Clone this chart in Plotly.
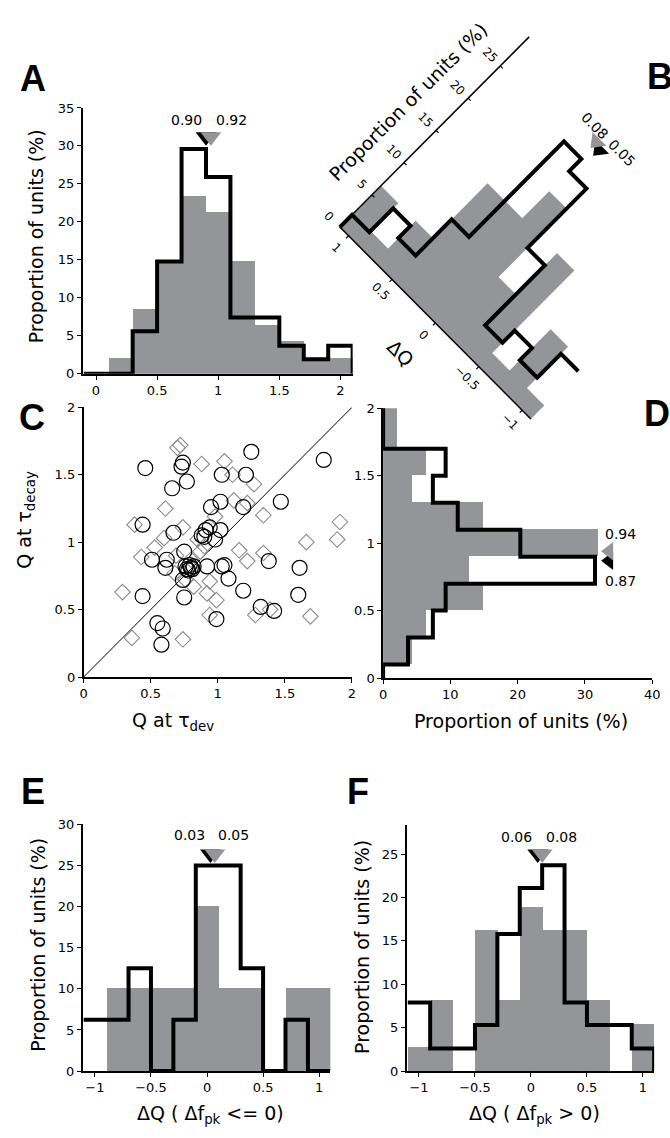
import math
import plotly.graph_objects as go

W, H = 670, 1138
FONT = "DejaVu Sans"
GRAY = "#939598"
DIAMOND_GRAY = "#8c8c8c"
BIN_W = 0.2

# ---------------- data ----------------
# Panel A: distribution of Q (bins of 0.2, lower edges)
a_lo = [-0.1, 0.1, 0.3, 0.5, 0.7, 0.9, 1.1, 1.3, 1.5, 1.7, 1.9]
a_gray = [0, 2.1, 8.5, 14.9, 23.4, 21.3, 14.9, 6.4, 4.3, 2.1, 2.1]
a_black = [0, 0, 5.6, 14.8, 29.6, 25.9, 7.4, 7.4, 3.7, 1.9, 3.7]
a_median_black, a_median_gray = 0.90, 0.92

# Panel C: Q at tau_dev vs Q at tau_decay
circ_x = [0.46, 0.74, 0.73, 0.77, 0.66, 1.25, 1.03, 1.21, 1.79, 1.47, 1.02, 0.95, 1.19,
          0.44, 0.67, 0.94, 0.91, 1.02, 0.88, 0.90, 0.98, 0.75, 0.51, 0.62, 0.61, 0.79,
          0.77, 0.81, 0.82, 0.92, 1.03, 1.05, 1.38, 1.61, 0.74, 1.08, 0.44, 0.75, 1.19,
          1.60, 1.32, 1.42, 0.99, 0.55, 0.59, 0.58, 0.78, 0.80, 0.76]
circ_y = [1.55, 1.59, 1.56, 1.45, 1.40, 1.67, 1.50, 1.50, 1.61, 1.30, 1.30, 1.26, 1.26,
          1.13, 1.07, 1.11, 1.09, 1.09, 1.05, 1.04, 1.02, 0.93, 0.87, 0.87, 0.81, 0.83,
          0.80, 0.80, 0.82, 0.82, 0.82, 0.83, 0.86, 0.81, 0.72, 0.73, 0.60, 0.59, 0.64,
          0.61, 0.52, 0.49, 0.43, 0.40, 0.36, 0.24, 0.79, 0.81, 0.82]
dia_x = [0.72, 0.70, 0.88, 1.05, 1.11, 1.27, 0.61, 1.12, 1.22, 1.34, 0.38, 0.74, 0.98,
         1.91, 1.89, 1.66, 0.53, 0.43, 0.60, 0.69, 0.85, 0.90, 1.16, 1.22, 1.34, 0.87,
         0.80, 0.29, 0.82, 0.94, 0.92, 0.99, 0.94, 1.28, 1.39, 1.69, 0.36, 0.74, 0.68, 0.76]
dia_y = [1.72, 1.70, 1.58, 1.60, 1.50, 1.43, 1.25, 1.31, 1.29, 1.20, 1.13, 1.11, 1.19,
         1.15, 1.02, 1.00, 0.96, 0.89, 1.03, 0.90, 1.02, 0.97, 0.94, 0.86, 0.92, 0.93,
         0.87, 0.63, 0.67, 0.71, 0.62, 0.57, 0.46, 0.46, 0.50, 0.45, 0.29, 0.28, 0.77, 0.72]

# Panel D: distribution of Q at tau_decay (horizontal)
d_lo = [-0.1, 0.1, 0.3, 0.5, 0.7, 0.9, 1.1, 1.3, 1.5, 1.7, 1.9]
d_gray = [0, 4.3, 6.4, 14.9, 12.8, 31.9, 14.9, 4.3, 6.4, 2.1, 2.1]
d_black = [0, 3.7, 7.4, 9.3, 31.5, 20.4, 11.1, 7.4, 9.3, 0, 0]
d_median_gray, d_median_black = 0.94, 0.87

# Panels B, E, F: distributions of delta Q
dq_lo = [-1.1, -0.9, -0.7, -0.5, -0.3, -0.1, 0.1, 0.3, 0.5, 0.7, 0.9]
b_gray = [2.1, 8.5, 2.1, 14.9, 8.5, 19.1, 14.9, 14.9, 6.4, 2.1, 6.4]
b_black = [7.4, 3.7, 5.6, 3.7, 13.0, 22.2, 24.1, 9.3, 3.7, 5.6, 1.9]
b_median_gray, b_median_black = 0.08, 0.05
e_gray = [0, 10, 10, 10, 10, 20, 10, 10, 0, 10, 10]
e_black = [6.25, 6.25, 12.5, 0, 6.25, 25, 25, 12.5, 0, 6.25, 0]
e_median_black, e_median_gray = 0.03, 0.05
f_gray = [2.7, 8.1, 0, 16.2, 8.1, 18.9, 16.2, 16.2, 8.1, 0, 5.4]
f_black = [7.9, 2.6, 2.6, 5.3, 15.8, 21.1, 23.7, 7.9, 5.3, 5.3, 2.6]
f_median_black, f_median_gray = 0.06, 0.08


# ---------------- helpers ----------------
def dom_x(x0, x1):
    return [x0 / W, x1 / W]


def dom_y(top, bottom):
    return [1 - bottom / H, 1 - top / H]


def px(x):
    return x / W


def py(y):
    return 1 - y / H


def centers(lo):
    return [v + BIN_W / 2 for v in lo]


def step_path(lo, vals, close_end=True):
    xs, ys = [], []
    for a, v in zip(lo, vals):
        xs += [a, a + BIN_W]
        ys += [v, v]
    if close_end:
        xs.append(lo[-1] + BIN_W)
        ys.append(0)
    return xs, ys


OUTLINE = dict(color="black", width=4)

fig = go.Figure()

# ---------------- panel A ----------------
fig.add_trace(go.Bar(x=centers(a_lo), y=a_gray, width=BIN_W, marker=dict(color=GRAY, line=dict(width=0)),
                     xaxis="x", yaxis="y", showlegend=False))
sx, sy = step_path(a_lo, a_black)
fig.add_trace(go.Scatter(x=sx, y=sy, mode="lines", line=OUTLINE, xaxis="x", yaxis="y", showlegend=False))
fig.add_trace(go.Scatter(x=[a_median_black], y=[31.2], mode="markers",
                         marker=dict(symbol="triangle-down", size=18, color="black"),
                         xaxis="x", yaxis="y", showlegend=False, cliponaxis=False))
fig.add_trace(go.Scatter(x=[a_median_gray + 0.02], y=[31.2], mode="markers",
                         marker=dict(symbol="triangle-down", size=18, color=GRAY),
                         xaxis="x", yaxis="y", showlegend=False, cliponaxis=False))

# ---------------- panel C ----------------
c_range = [0, 2]
fig.add_trace(go.Scatter(x=c_range, y=c_range, mode="lines", line=dict(color="black", width=1),
                         xaxis="x2", yaxis="y2", showlegend=False))
fig.add_trace(go.Scatter(x=dia_x, y=dia_y, mode="markers",
                         marker=dict(symbol="diamond-open", size=12, color=DIAMOND_GRAY, line=dict(width=1.1)),
                         xaxis="x2", yaxis="y2", showlegend=False))
fig.add_trace(go.Scatter(x=circ_x, y=circ_y, mode="markers",
                         marker=dict(symbol="circle-open", size=15, color="black", line=dict(width=1.2)),
                         xaxis="x2", yaxis="y2", showlegend=False))

# ---------------- panel D ----------------
fig.add_trace(go.Bar(y=centers(d_lo), x=d_gray, width=BIN_W, orientation="h",
                     marker=dict(color=GRAY, line=dict(width=0)),
                     xaxis="x3", yaxis="y3", showlegend=False))
sy, sx = step_path(d_lo, d_black, close_end=False)
fig.add_trace(go.Scatter(x=sx, y=sy, mode="lines", line=OUTLINE, xaxis="x3", yaxis="y3", showlegend=False))
fig.add_trace(go.Scatter(x=[33.6], y=[d_median_black], mode="markers",
                         marker=dict(symbol="triangle-left", size=16, color="black"),
                         xaxis="x3", yaxis="y3", showlegend=False, cliponaxis=False))
fig.add_trace(go.Scatter(x=[33.6], y=[d_median_gray], mode="markers",
                         marker=dict(symbol="triangle-left", size=16, color=GRAY),
                         xaxis="x3", yaxis="y3", showlegend=False, cliponaxis=False))

# ---------------- panels E and F ----------------
for ax, gray, black, med_b, med_g, ytri in (("4", e_gray, e_black, e_median_black, e_median_gray, 26.4),
                                            ("5", f_gray, f_black, f_median_black, f_median_gray, 25.0)):
    fig.add_trace(go.Bar(x=centers(dq_lo), y=gray, width=BIN_W, marker=dict(color=GRAY, line=dict(width=0)),
                         xaxis="x" + ax, yaxis="y" + ax, showlegend=False))
    sx, sy = step_path(dq_lo, black)
    fig.add_trace(go.Scatter(x=sx, y=sy, mode="lines", line=OUTLINE,
                             xaxis="x" + ax, yaxis="y" + ax, showlegend=False))
    fig.add_trace(go.Scatter(x=[med_b], y=[ytri], mode="markers",
                             marker=dict(symbol="triangle-down", size=18, color="black"),
                             xaxis="x" + ax, yaxis="y" + ax, showlegend=False, cliponaxis=False))
    fig.add_trace(go.Scatter(x=[med_g + 0.02], y=[ytri], mode="markers",
                             marker=dict(symbol="triangle-down", size=18, color=GRAY),
                             xaxis="x" + ax, yaxis="y" + ax, showlegend=False, cliponaxis=False))

# ---------------- panel B (histogram rotated by 45 degrees) ----------------
B_ORIGIN = (342.0, 223.0)   # corner where dQ = 1.1 and proportion = 0
B_QSCALE = 125.0            # px per unit of dQ
B_PSCALE = 9.24             # px per percent
B_QTOP = 1.1
R2 = math.sqrt(2)


def b_xy(q, p, du=0.0, dv=0.0):
    s = (B_QTOP - q) * B_QSCALE + du
    t = p * B_PSCALE + dv
    return B_ORIGIN[0] + (s + t) / R2, B_ORIGIN[1] + (s - t) / R2


def b_trace(points, **kw):
    xs, ys = zip(*[b_xy(*pt) for pt in points])
    return go.Scatter(x=list(xs), y=list(ys), xaxis="x6", yaxis="y6", showlegend=False, **kw)


# bins ordered from the corner outwards
b_bins = sorted(zip(dq_lo, b_gray, b_black), key=lambda r: -r[0])
gray_pts = [(B_QTOP, 0)]
black_pts = [(B_QTOP, 0)]
for lo, g, k in b_bins:
    gray_pts += [(lo + BIN_W, g), (lo, g)]
    black_pts += [(lo + BIN_W, k), (lo, k)]
gray_pts.append((b_bins[-1][0], 0))
fig.add_trace(b_trace(gray_pts, mode="lines", fill="toself", fillcolor=GRAY, line=dict(width=0)))

b_prop_ticks = [0, 5, 10, 15, 20, 25]
b_prop_max = 29.5
b_q_ticks = [1, 0.5, 0, -0.5, -1]
fig.add_trace(b_trace([(B_QTOP, 0), (B_QTOP, b_prop_max)], mode="lines", line=dict(color="black", width=1.5)))
fig.add_trace(b_trace([(B_QTOP, 0), (b_bins[-1][0], 0)], mode="lines", line=dict(color="black", width=1.5)))
for p in b_prop_ticks:
    fig.add_trace(b_trace([(B_QTOP, p), (B_QTOP, p, 3.5, 0)], mode="lines", line=dict(color="black", width=1.2)))
for q in b_q_ticks:
    fig.add_trace(b_trace([(q, 0), (q, 0, 0, -3.5)], mode="lines", line=dict(color="black", width=1.2)))
fig.add_trace(b_trace(black_pts, mode="lines", line=OUTLINE))
fig.add_trace(b_trace([(b_median_black, 26.2)], mode="markers", cliponaxis=False,
                      marker=dict(symbol="triangle-down", angle=45, size=17, color="black")))
fig.add_trace(b_trace([(b_median_gray + 0.03, 26.6)], mode="markers", cliponaxis=False,
                      marker=dict(symbol="triangle-down", angle=45, size=17, color=GRAY)))

# ---------------- axes ----------------
axis_style = dict(showline=True, linecolor="black", linewidth=1.5, ticks="outside", ticklen=4,
                  tickwidth=1.2, tickcolor="black", showgrid=False, zeroline=False,
                  tickfont=dict(family=FONT, size=13, color="black"), fixedrange=True)

layout = dict(
    width=W, height=H, margin=dict(l=0, r=0, t=0, b=0),
    paper_bgcolor="white", plot_bgcolor="rgba(0,0,0,0)",
    font=dict(family=FONT, color="black"), barmode="overlay", bargap=0,
    xaxis=dict(domain=dom_x(80, 355), range=[-0.11, 2.1], tickvals=[0, 0.5, 1, 1.5, 2], anchor="y", **axis_style),
    yaxis=dict(domain=dom_y(102.3, 371.7), range=[0, 35], dtick=5, anchor="x", **axis_style),
    xaxis2=dict(domain=dom_x(81, 354.3), range=c_range, dtick=0.5, anchor="y2", **axis_style),
    yaxis2=dict(domain=dom_y(405.7, 679), range=c_range, dtick=0.5, anchor="x2", **axis_style),
    xaxis3=dict(domain=dom_x(386, 660), range=[0, 40], dtick=10, anchor="y3", **axis_style),
    yaxis3=dict(domain=dom_y(406.7, 680), range=[0, 2], dtick=0.5, anchor="x3", **axis_style),
    xaxis4=dict(domain=dom_x(80, 332.3), range=[-1.11, 1.1], tickvals=[-1, -0.5, 0, 0.5, 1], anchor="y4", **axis_style),
    yaxis4=dict(domain=dom_y(828.3, 1078.3), range=[0, 30], dtick=5, anchor="x4", **axis_style),
    xaxis5=dict(domain=dom_x(410, 662), range=[-1.11, 1.1], tickvals=[-1, -0.5, 0, 0.5, 1], anchor="y5", **axis_style),
    yaxis5=dict(domain=dom_y(829.3, 1078.3), range=[0, 28.3], tickvals=[0, 5, 10, 15, 20, 25], anchor="x5", **axis_style),
    xaxis6=dict(domain=dom_x(290, 670), range=[290, 670], visible=False, fixedrange=True, anchor="y6"),
    yaxis6=dict(domain=dom_y(0, 440), range=[440, 0], visible=False, fixedrange=True, anchor="x6"),
)

ann = []


def text_px(x, y, text, size=19, angle=0, **kw):
    ann.append(dict(x=px(x), y=py(y), xref="paper", yref="paper", text=text, showarrow=False,
                    textangle=angle, font=dict(family=FONT, size=size, color="black"),
                    xanchor=kw.pop("xanchor", "center"), yanchor=kw.pop("yanchor", "middle"), **kw))


def text_data(x, y, ax, text, size=14, angle=0):
    ann.append(dict(x=x, y=y, xref="x" + ax if ax else "x", yref="y" + ax if ax else "y", text=text,
                    showarrow=False, textangle=angle, font=dict(family=FONT, size=size, color="black"),
                    xanchor="center", yanchor="middle"))


# panel letters
for letter, x, y, anchor in (("A", 30, 72, "center"), ("B", 653, 70, "left"), ("C", 29, 416, "center"),
                             ("D", 650, 412, "left"), ("E", 30, 795, "center"), ("F", 360, 795, "center")):
    ann.append(dict(x=px(x), y=py(y), xref="paper", yref="paper", text="<b>%s</b>" % letter, showarrow=False,
                    font=dict(family="Liberation Sans", size=36, color="black"),
                    xanchor=anchor, yanchor="middle"))

# axis titles
text_px(33, 232, "Proportion of units (%)", angle=-90)
text_px(22, 520, "Q at \u03c4<sub>decay</sub>", angle=-90)
text_px(172, 724, "Q at \u03c4<sub>dev</sub>")
text_px(526, 724, "Proportion of units (%)")
text_px(35, 950, "Proportion of units (%)", angle=-90)
text_px(210, 1122, "\u0394Q ( \u0394f<sub>pk</sub> &lt;= 0)")
text_px(365, 952, "Proportion of units (%)", angle=-90)
text_px(540, 1122, "\u0394Q ( \u0394f<sub>pk</sub> &gt; 0)")

# median labels
text_data(0.74, 33.4, "", "%.2f" % a_median_black)
text_data(1.11, 33.4, "", "%.2f" % a_median_gray)
text_data(35.3, 1.07, "3", "%.2f" % d_median_gray)
text_data(35.3, 0.72, "3", "%.2f" % d_median_black)
text_data(-0.16, 28.7, "4", "%.2f" % e_median_black)
text_data(0.24, 28.7, "4", "%.2f" % e_median_gray)
text_data(-0.13, 27.0, "5", "%.2f" % f_median_black)
text_data(0.27, 27.0, "5", "%.2f" % f_median_gray)

# panel B texts
for p in b_prop_ticks:
    x, y = b_xy(B_QTOP, p, -15, 0)
    text_data(x, y, "6", str(p), size=12, angle=45)
for q in b_q_ticks:
    x, y = b_xy(q, 0, 0, -17)
    label = ("%g" % q).replace("-", "\u2212")
    text_data(x, y, "6", label, size=12, angle=45)
x, y = b_xy(B_QTOP, 15, -41, 0)
text_data(x, y, "6", "Proportion of units (%)", size=19, angle=-45)
x, y = b_xy(0.03, -5.0)
text_data(x, y, "6", "\u0394Q", size=19, angle=45)
x, y = b_xy(0.21, 27.7)
text_data(x, y, "6", "%.2f" % b_median_gray, size=14, angle=45)
x, y = b_xy(-0.10, 27.7)
text_data(x, y, "6", "%.2f" % b_median_black, size=14, angle=45)

layout["annotations"] = ann
fig.update_layout(**layout)
fig.write_html("out.html")
